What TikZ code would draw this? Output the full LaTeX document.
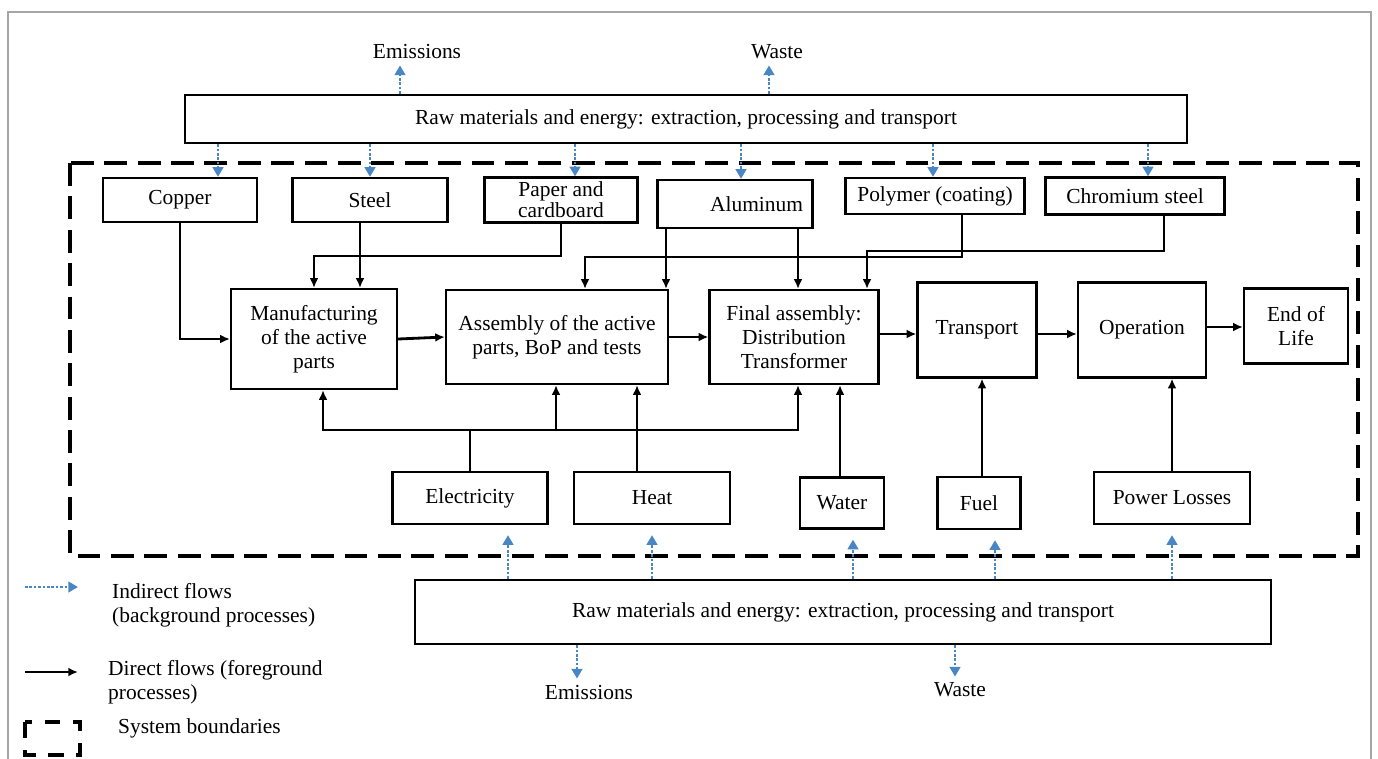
\documentclass[tikz,border=0pt]{standalone}
\usepackage{fontspec}
\setmainfont{Liberation Serif}
\newfontfamily\figfont{Liberation Serif}
\usetikzlibrary{arrows.meta, positioning}
\definecolor{flowblue}{RGB}{74,134,196}

\begin{document}
\begin{tikzpicture}[x=0.02cm, y=-0.02cm,
  every node/.style={font=\figfont\fontsize{12.2}{13.8}\selectfont},
  box/.style={draw, line width=1.3pt, align=center, inner sep=2pt},
  flow/.style={line width=1.6pt, -{Latex[length=5.5pt,width=5pt]}},
  indflow/.style={draw=flowblue, line width=1.5pt, densely dotted,
    -{Triangle[length=5.5pt,width=6pt,fill=flowblue]}},
  boundary/.style={line width=2.4pt, dash pattern=on 13pt off 6pt}]
  \useasboundingbox (0,0) rectangle (1378,758);

  % Outer frame (runs off the bottom)
  \draw[gray!70, line width=0.8pt] (8,775) -- (8,12) -- (1371,12) -- (1371,775);

  % Background supply, top
  \node[box, minimum width=20.04cm, minimum height=0.96cm] (rawtop) at (686,119)
    {Raw materials and energy: extraction, processing and transport};
  \node (emtop) at (417,52) {Emissions};
  \node (wstop) at (777,52) {Waste};

  % System boundary
  \draw[boundary] (70,163) rectangle (1358,556);

  % Material inputs
  \node[box, minimum width=3.08cm, minimum height=0.88cm] (cu) at (180,200) {Copper};
  \node[box, minimum width=3.10cm, minimum height=0.88cm] (st) at (370,200) {Steel};
  \node[box, minimum width=3.06cm, minimum height=0.90cm, inner sep=0pt,
    font=\figfont\fontsize{12.2}{12}\selectfont] (pap) at (561,200) {Paper and\\cardboard};
  \node[box, minimum width=3.10cm, minimum height=0.96cm, text width=2.72cm,
    inner xsep=0.19cm, align=right] (al) at (735,204) {Aluminum};
  \node[box, minimum width=3.58cm, minimum height=0.72cm] (pol) at (935,196) {Polymer (coating)};
  \node[box, minimum width=3.58cm, minimum height=0.74cm] (cr) at (1135,196) {Chromium steel};

  % Foreground processes
  \node[box, minimum width=3.32cm, minimum height=2.00cm] (man) at (314,339)
    {Manufacturing\\of the active\\parts};
  \node[box, minimum width=4.44cm, minimum height=1.88cm] (asm) at (557,337)
    {Assembly of the active\\parts, BoP and tests};
  \node[box, minimum width=3.38cm, minimum height=1.88cm] (fin) at (794,337)
    {Final assembly:\\Distribution\\Transformer};
  \node[box, minimum width=2.38cm, minimum height=1.90cm] (tra) at (977,330) {Transport};
  \node[box, minimum width=2.56cm, minimum height=1.90cm] (ope) at (1142,330) {Operation};
  \node[box, minimum width=2.08cm, minimum height=1.50cm] (eol) at (1296,326) {End of\\Life};

  % Energy and other inputs
  \node[box, minimum width=3.10cm, minimum height=1.04cm] (ele) at (470,498) {Electricity};
  \node[box, minimum width=3.12cm, minimum height=1.04cm] (hea) at (652,498) {Heat};
  \node[box, minimum width=1.68cm, minimum height=1.02cm] (wat) at (842,503) {Water};
  \node[box, minimum width=1.66cm, minimum height=1.04cm] (fue) at (979,503) {Fuel};
  \node[box, minimum width=3.12cm, minimum height=1.04cm] (pow) at (1172,498) {Power Losses};

  % Background supply, bottom
  \node[box, minimum width=17.12cm, minimum height=1.28cm] (rawbot) at (843,612)
    {Raw materials and energy: extraction, processing and transport};
  \node (embot) at (589,692) {Emissions};
  \node (wsbot) at (960,690) {Waste};

  % Indirect flows
  \draw[indflow] (rawtop.north -| 400,0) -- (emtop.south -| 400,0);
  \draw[indflow] (rawtop.north -| 769,0) -- (wstop.south -| 769,0);
  \foreach \n/\x in {cu/218, st/370, pap/575, al/741, pol/933, cr/1148}
    \draw[indflow] (rawtop.south -| \x,0) -- (\n.north -| \x,0);
  \foreach \n/\x in {ele/508, hea/652, wat/853, fue/995, pow/1172}
    \draw[indflow, shorten >=0.2cm] (rawbot.north -| \x,0) -- (\n.south -| \x,0);
  \draw[indflow] (rawbot.south -| 577,0) -- (embot.north -| 577,0);
  \draw[indflow] (rawbot.south -| 955,0) -- (wsbot.north -| 955,0);

  % Direct flows: materials
  \draw[flow] (cu.south) |- (man.west);
  \draw[flow] (st.south -| 360,0) -- (man.north -| 360,0);
  \draw[flow] (pap.south) -- (pap.south |- 0,256) -| (man.north);
  \draw[flow] (al.south -| 666,0) -- (asm.north -| 666,0);
  \draw[flow] (pol.south -| 962,0) -- (962,257) -| (asm.north -| 585,0);
  \draw[flow] (al.south -| 798,0) -- (fin.north -| 798,0);
  \draw[flow] (cr.south -| 1164,0) -- (1164,251) -| (fin.north -| 867,0);

  % Direct flows: main chain
  \draw[flow] (man.east) -- (asm.west);
  \draw[flow] (asm.east) -- (fin.west);
  \draw[flow] (fin.east |- 0,334) -- (tra.west |- 0,334);
  \draw[flow] (tra.east |- 0,334) -- (ope.west |- 0,334);
  \draw[flow] (ope.east |- 0,327) -- (eol.west |- 0,327);

  % Direct flows: energy and other inputs
  \coordinate (ebus) at (ele.north |- 0,430);
  \draw[line width=1.6pt] (ele.north) -- (ebus);
  \draw[flow] (ebus) -| (man.south -| 323,0);
  \draw[flow] (ebus) -| (asm.south -| 556,0);
  \draw[flow] (ebus) -| (fin.south -| 798,0);
  \draw[flow] (hea.north -| 637,0) -- (asm.south -| 637,0);
  \draw[flow] (wat.north -| 840,0) -- (fin.south -| 840,0);
  \draw[flow] (fue.north -| 982,0) -- (tra.south -| 982,0);
  \draw[flow] (pow.north) -- (ope.south -| pow.north);

  % Legend
  \coordinate (li1) at (25,587); \coordinate (li2) at (78,587);
  \draw[indflow] (li1) -- (li2);
  \node[anchor=west, align=left] (lind) at (106,605) {Indirect flows\\(background processes)};
  \coordinate (ld1) at (25,672); \coordinate (ld2) at (78,672);
  \draw[flow] (ld1) -- (ld2);
  \node[anchor=west, align=left] (ldir) at (102,682) {Direct flows (foreground\\processes)};
  \draw[line width=2.4pt, dash pattern=on 9pt off 7pt] (25,722) rectangle (80,755);
  \node[anchor=west] (lbnd) at (112,728) {System boundaries};
\end{tikzpicture}
\end{document}
